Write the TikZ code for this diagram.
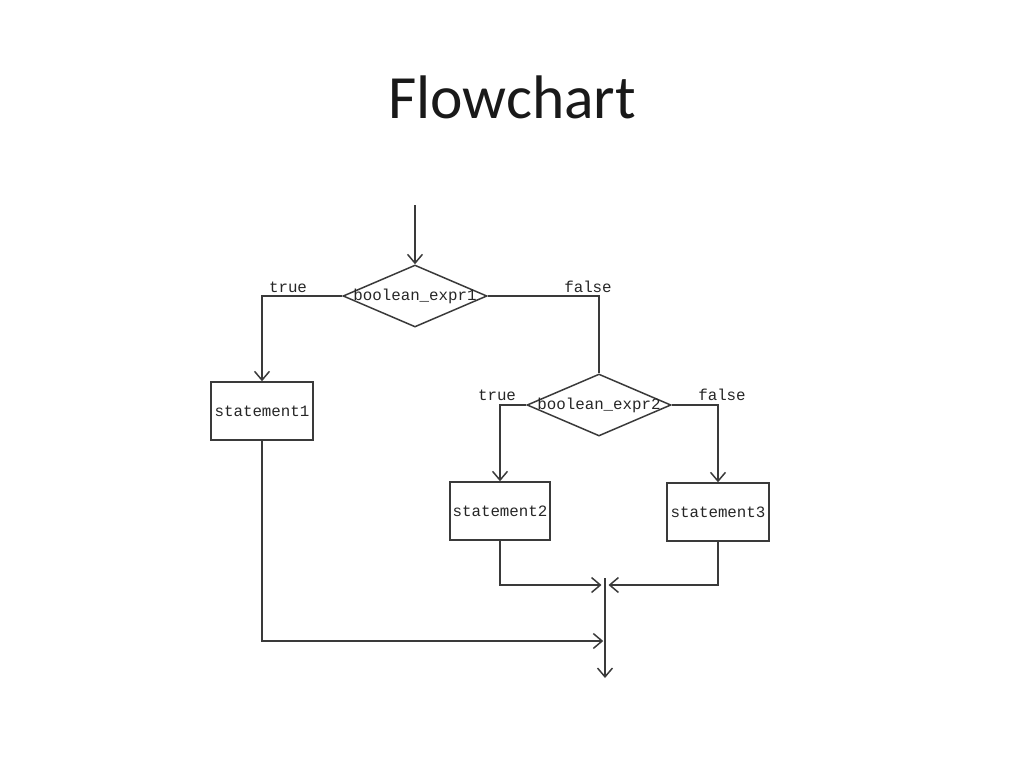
\documentclass[tikz,border=0pt]{standalone}
\usepackage{fontspec}
\setmainfont{Carlito}
\newfontfamily\codefont{Liberation Mono}
\usetikzlibrary{shapes.geometric,arrows.meta}
\definecolor{linegray}{HTML}{3A3A3A}
\tikzset{
  wire/.style={draw=linegray, line width=0.85pt},
  flow/.style={wire, -{Straight Barb[length=5pt,width=8.5pt]}},
  codetext/.style={font=\codefont\fontsize{9}{11}\selectfont, text=black!85},
  decision/.style={diamond, wire, minimum width=2.88cm, minimum height=1.24cm, inner sep=0pt},
  stmt/.style={rectangle, wire, codetext, minimum height=1.16cm, inner sep=0pt},
  lbl/.style={codetext, inner sep=0pt}
}
\begin{document}
\begin{tikzpicture}[x=0.02cm, y=-0.02cm]
	\useasboundingbox (0,0) rectangle (1024,768);
	% Titulo
		\node[font=\fontsize{35}{42}\selectfont, text=black!90] (title) at (512,97) {Flowchart};
	
	% Decisiones
		\coordinate (start) at (415,205);
		\node[decision, label={[codetext]center:boolean\_expr1}] (d1) at (415,296) {};
		\node[decision, label={[codetext]center:boolean\_expr2}] (d2) at (599,405) {};
	
	% Sentencias
		\node[stmt, minimum width=2.04cm] (s1) at (262,411) {statement1};
		\node[stmt, minimum width=2.00cm] (s2) at (500,511) {statement2};
		\node[stmt, minimum width=2.04cm] (s3) at (718,512) {statement3};
	
	% Etiquetas
		\node[lbl] (t1) at (288,287) {true};
		\node[lbl] (f1) at (588,287) {false};
		\node[lbl] (t2) at (497,395) {true};
		\node[lbl] (f2) at (722,395) {false};
	
	% Union
		\coordinate (mtop) at (605,578);
		\coordinate (merge) at (605,585);
		\coordinate (join) at (605,641);
		\coordinate (stop) at (605,678);
	
	% Conectores
		\draw[flow] (start) -- (d1.north);
		\draw[flow] (d1.west) -| (s1.north);
		\draw[wire] (d1.east) -| (d2.north);
		\draw[flow] (d2.west) -| (s2.north);
		\draw[flow] (d2.east) -| (s3.north);
		\draw[flow] (s2.south) |- ([xshift=-2]merge);
		\draw[flow] (s3.south) |- ([xshift=2]merge);
		\draw[flow] (s1.south) |- ([xshift=-1]join);
		\draw[flow] (mtop) -- (stop);
\end{tikzpicture}
\end{document}
